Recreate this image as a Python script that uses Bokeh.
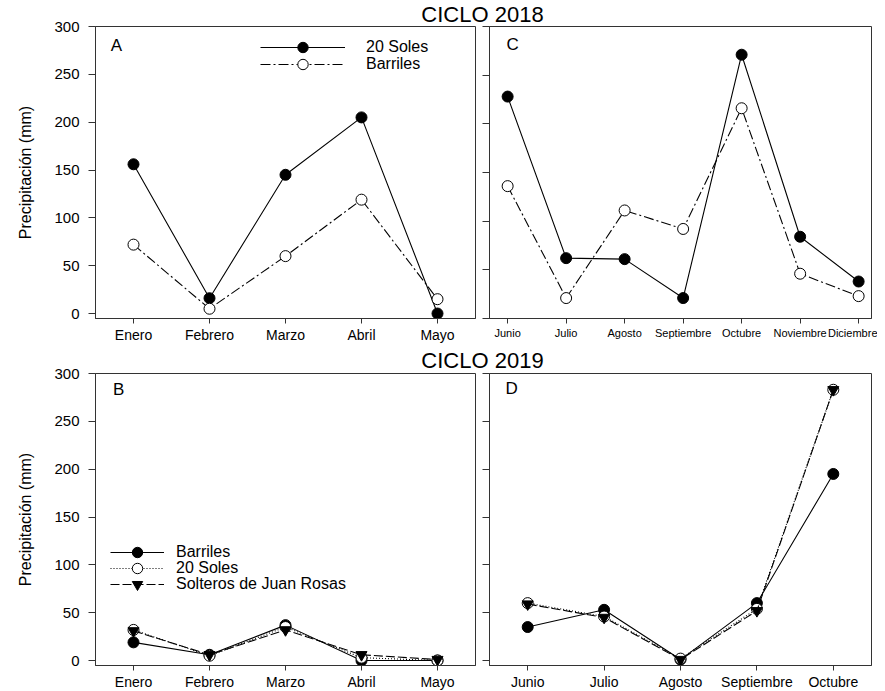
from bokeh.plotting import figure
from bokeh.models import Legend, LegendItem, Label, FixedTicker, Range1d, Div
from bokeh.layouts import column, row
from bokeh.embed import file_html
from bokeh.resources import INLINE

FONT = "Liberation Sans"

# ---------------- data ----------------
meses_ene_may = ["Enero", "Febrero", "Marzo", "Abril", "Mayo"]
meses_jun_dic = ["Junio", "Julio", "Agosto", "Septiembre", "Octubre", "Noviembre", "Diciembre"]
meses_jun_oct = ["Junio", "Julio", "Agosto", "Septiembre", "Octubre"]

# CICLO 2018 - A
a_20_soles = [156, 16, 145, 205, 0]
a_barriles = [72, 5, 60, 119, 15]
# CICLO 2018 - C
c_20_soles = [228, 62, 61, 21, 271, 84, 38]
c_barriles = [136, 21, 111, 92, 216, 46, 23]
# CICLO 2019 - B
b_barriles = [19, 6, 37, 0, 0]
b_20_soles = [32, 5, 35, 3, 0]
b_solteros = [31, 6, 32, 6, 1]
# CICLO 2019 - D
d_barriles = [35, 53, 1, 60, 195]
d_20_soles = [60, 46, 2, 54, 283]
d_solteros = [59, 45, 1, 52, 283]

y_ticks = [0, 50, 100, 150, 200, 250, 300]

AX = "#333333"


def make_fig(months, width, height, bl, br, bt, bb, xr, yr, ylabels, xfont):
    p = figure(width=width, height=height, x_range=Range1d(*xr), y_range=Range1d(*yr),
               output_backend="svg", toolbar_location=None, title=None,
               min_border_left=bl, min_border_right=br, min_border_top=bt, min_border_bottom=bb,
               border_fill_color=None, outline_line_color=AX, outline_line_width=1)
    p.xgrid.visible = False
    p.ygrid.visible = False
    xs = list(range(len(months)))
    p.xaxis.ticker = FixedTicker(ticks=xs)
    p.xaxis.major_label_overrides = {i: m for i, m in enumerate(months)}
    p.xaxis.major_label_text_font = FONT
    p.xaxis.major_label_text_font_size = xfont
    p.xaxis.major_label_text_color = "black"
    p.xaxis.major_label_standoff = 3
    p.xaxis.major_tick_in = 0
    p.xaxis.major_tick_out = 5
    p.xaxis.minor_tick_line_color = None
    p.yaxis.ticker = FixedTicker(ticks=y_ticks)
    p.yaxis.major_tick_in = 0
    p.yaxis.major_tick_out = 7
    p.yaxis.minor_tick_line_color = None
    if ylabels:
        p.yaxis.major_label_text_font = FONT
        p.yaxis.major_label_text_font_size = "15px"
        p.yaxis.major_label_text_color = "black"
        p.yaxis.major_label_standoff = 9
        p.yaxis.axis_label = "Precipitación (mm)"
        p.yaxis.axis_label_text_font = FONT
        p.yaxis.axis_label_text_font_size = "16px"
        p.yaxis.axis_label_text_font_style = "normal"
        p.yaxis.axis_label_text_color = "black"
        p.yaxis.axis_label_standoff = 17
    else:
        p.yaxis.major_label_overrides = {t: "" for t in y_ticks}
        p.yaxis.major_label_standoff = 0
    for ax in (p.xaxis, p.yaxis):
        ax.axis_line_color = AX
        ax.major_tick_line_color = AX
    return p, xs


def series(p, xs, ys, dash, marker, fill):
    r1 = p.line(xs, ys, line_color="black", line_width=1.1, line_dash=dash)
    r2 = p.scatter(xs, ys, marker=marker, size=11, fill_color=fill, line_color="black", line_width=1)
    return [r1, r2]


def panel_letter(p, x, y, t):
    p.add_layout(Label(x=x, y=y, text=t, text_font=FONT, text_font_size="17px",
                       text_baseline="middle", text_align="left", text_color="black"))


def add_legend_row(p, label, renderers, loc, gw, standoff):
    # one legend per row so that rows can sit closer than the glyph box height
    lg = Legend(items=[LegendItem(label=label, renderers=renderers)], location=loc,
                glyph_width=gw, glyph_height=26, label_height=26,
                spacing=0, padding=0, margin=0, label_standoff=standoff,
                label_text_font=FONT, label_text_font_size="16px", label_text_color="black",
                border_line_color=None, background_fill_alpha=0)
    p.add_layout(lg)


DASHDOT = "10 3 2 3"
DOTTED = "1 2"
DASHED = "9 3"

# ---------- Panel A ----------
pA, xa = make_fig(meses_ene_may, 482, 329, 95, 7, 10, 27, (-0.5, 4.5), (-5.2, 300), True, "14px")
ra1 = series(pA, xa, a_20_soles, "solid", "circle", "black")
ra2 = series(pA, xa, a_barriles, DASHDOT, "circle", "white")
panel_letter(pA, -0.30, 280, "A")
add_legend_row(pA, "20 Soles", ra1, (165, 258), 85, 21)
add_legend_row(pA, "Barriles", ra2, (165, 241), 85, 21)

# ---------- Panel C ----------
pC, xc = make_fig(meses_jun_dic, 395, 329, 7, 6, 10, 27, (-0.31, 6.22), (0, 300), False, "11px")
series(pC, xc, c_20_soles, "solid", "circle", "black")
series(pC, xc, c_barriles, DASHDOT, "circle", "white")
panel_letter(pC, -0.02, 282, "C")

# ---------- Panel B ----------
pB, xb = make_fig(meses_ene_may, 482, 329, 95, 7, 10, 27, (-0.5, 4.5), (-5.2, 300), True, "14px")
rb1 = series(pB, xb, b_barriles, "solid", "circle", "black")
rb2 = series(pB, xb, b_20_soles, DOTTED, "circle", "white")
rb3 = series(pB, xb, b_solteros, DASHED, "inverted_triangle", "black")
panel_letter(pB, -0.27, 283, "B")
add_legend_row(pB, "Barriles", rb1, (15, 100), 54, 12)
add_legend_row(pB, "20 Soles", rb2, (15, 84), 54, 12)
add_legend_row(pB, "Solteros de Juan Rosas", rb3, (15, 68), 54, 12)

# ---------- Panel D ----------
pD, xd = make_fig(meses_jun_oct, 395, 329, 7, 6, 10, 27, (-0.5, 4.5), (-5.2, 300), False, "14px")
series(pD, xd, d_barriles, "solid", "circle", "black")
series(pD, xd, d_20_soles, DOTTED, "circle", "white")
series(pD, xd, d_solteros, DASHED, "inverted_triangle", "black")
panel_letter(pD, -0.29, 284, "D")

TSTYLE = ("display:block; box-sizing:border-box; width:877px; font-family:'Liberation Sans'; "
          "font-size:22px; line-height:22px; text-align:center; padding-left:88px; color:#000; "
          "white-space:nowrap; position:relative;")
title1 = Div(text=f'<div style="{TSTYLE} top:4px">CICLO 2018</div>', width=877, height=16,
             margin=(0, 0, 0, 0))
title2 = Div(text=f'<div style="{TSTYLE} top:5px">CICLO 2019</div>', width=877, height=18,
             margin=(0, 0, 0, 0))

layout = column(title1, row(pA, pC), title2, row(pB, pD))

open("out.html", "w").write(file_html(layout, INLINE))
